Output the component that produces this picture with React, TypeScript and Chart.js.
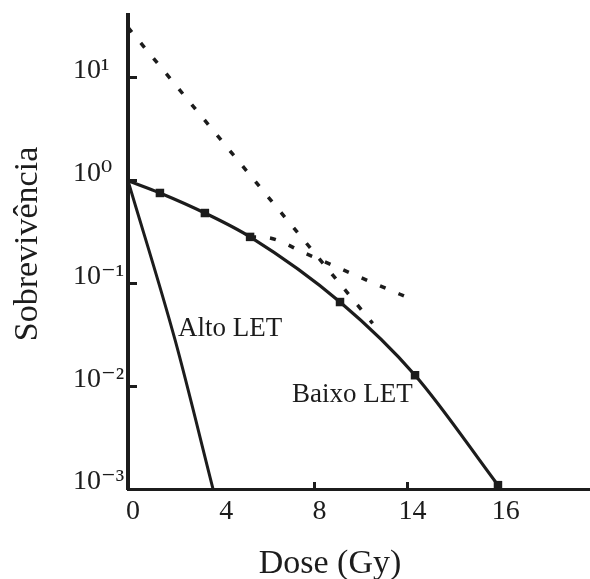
import React, { useEffect, useRef } from "react";
import { Chart, registerables } from "chart.js";

Chart.register(...registerables);

// Axis ticks (values and printed labels as in the figure)
const xTickValues = [0, 4, 8, 12, 16];
const xTickLabels = ["0", "4", "8", "14", "16"];
const yTickValues = [0.001, 0.01, 0.1, 1, 10];
const yTickLabels = ["10⁻³", "10⁻²", "10⁻¹", "10⁰", "10¹"];

// Alto LET curve
const altoDose = [0, 2.02, 3.65];
const altoSurv = [1, 0.0282, 0.001];

// Baixo LET curve (with square markers)
const baixoDose = [0, 1.37, 3.3, 5.24, 9.1, 12.32, 15.88];
const baixoSurv = [1, 0.76, 0.485, 0.284, 0.066, 0.0128, 0.00109];

// Dashed extrapolation of the terminal slope
const extrapDose = [0, 10.5];
const extrapSurv = [31, 0.041];

// Dashed curve starting at the third marker
const fracDose = [5.24, 5.97, 7.64, 10.24, 12.39];
const fracSurv = [0.284, 0.28, 0.195, 0.108, 0.067];

// Text annotations
const annotText = ["Alto LET", "Baixo LET"];
const annotDose = [2.15, 7.04];
const annotSurv = [0.036, 0.0082];

const xTitle = "Dose (Gy)";
const yTitle = "Sobrevivência";

const INK = "#1c1c1c";
const SERIF = '"Liberation Serif", "DejaVu Serif", serif';

const toPts = (xs: number[], ys: number[]) => xs.map((x, i) => ({ x, y: ys[i] }));

const textPlugin = {
  id: "textPlugin",
  afterDraw(chart: any) {
    const { ctx, chartArea, scales } = chart;
    const xs = scales.x;
    const ys = scales.y;
    ctx.save();
    ctx.fillStyle = INK;
    ctx.font = `27px ${SERIF}`;
    ctx.textAlign = "left";
    ctx.textBaseline = "middle";
    annotText.forEach((t, i) => {
      ctx.fillText(t, xs.getPixelForValue(annotDose[i]), ys.getPixelForValue(annotSurv[i]));
    });
    ctx.font = `34px ${SERIF}`;
    ctx.textAlign = "center";
    ctx.textBaseline = "alphabetic";
    ctx.fillText(xTitle, chartArea.left + 202, chartArea.bottom + 84);
    ctx.translate(37, (chartArea.top + chartArea.bottom) / 2 - 8);
    ctx.rotate(-Math.PI / 2);
    ctx.fillText(yTitle, 0, 0);
    ctx.restore();
  },
};

export default function App() {
  const ref = useRef<HTMLCanvasElement | null>(null);
  useEffect(() => {
    if (!ref.current) return;
    const chart = new Chart(ref.current, {
      type: "line",
      data: {
        datasets: [
          {
            data: toPts(extrapDose, extrapSurv),
            borderColor: INK,
            borderWidth: 3.5,
            borderDash: [6, 14],
            pointRadius: 0,
            tension: 0,
          },
          {
            data: toPts(fracDose, fracSurv),
            borderColor: INK,
            borderWidth: 3.5,
            borderDash: [6, 14],
            pointRadius: 0,
            cubicInterpolationMode: "monotone",
          },
          {
            data: toPts(altoDose, altoSurv),
            borderColor: INK,
            borderWidth: 3,
            pointRadius: 0,
            cubicInterpolationMode: "monotone",
          },
          {
            data: toPts(baixoDose, baixoSurv),
            borderColor: INK,
            borderWidth: 3.2,
            backgroundColor: INK,
            pointStyle: "rect",
            pointRadius: (c: any) => (c.dataIndex === 0 ? 0 : 6),
            pointBorderWidth: 0,
            cubicInterpolationMode: "monotone",
          },
        ],
      } as any,
      options: {
        animation: false,
        responsive: false,
        devicePixelRatio: 1,
        layout: { autoPadding: false, padding: { left: 73, top: 15, right: 0, bottom: 0 } },
        plugins: { legend: { display: false }, tooltip: { enabled: false } },
        scales: {
          x: {
            type: "linear",
            min: 0,
            max: 19.83,
            afterBuildTicks: (s: any) => {
              s.ticks = xTickValues.map((v) => ({ value: v }));
            },
            afterFit: (s: any) => {
              s.height = 90;
              s.paddingLeft = 0;
              s.paddingRight = 0;
              s.paddingTop = 0;
              s.paddingBottom = 0;
            },
            ticks: {
              callback: (_v: any, i: number) => xTickLabels[i],
              font: { family: SERIF, size: 28 },
              color: INK,
              padding: 13,
              labelOffset: 5,
              maxRotation: 0,
              autoSkip: false,
            },
            grid: {
              display: true,
              drawOnChartArea: false,
              drawTicks: true,
              tickLength: -7,
              tickWidth: 3,
              tickColor: (c: any) => (c.index === 1 || c.index === 0 ? "rgba(0,0,0,0)" : INK),
            },
            border: { display: true, width: 3, color: INK },
          },
          y: {
            type: "logarithmic",
            min: 0.001,
            max: 41,
            afterBuildTicks: (s: any) => {
              s.ticks = yTickValues.map((v) => ({ value: v }));
            },
            afterFit: (s: any) => {
              s.width = 55;
              s.paddingLeft = 0;
              s.paddingRight = 0;
              s.paddingTop = 0;
              s.paddingBottom = 0;
            },
            ticks: {
              callback: (_v: any, i: number) => yTickLabels[i],
              font: { family: SERIF, size: 28 },
              color: INK,
              crossAlign: "far",
              labelOffset: -7,
              autoSkip: false,
            },
            grid: {
              display: true,
              drawOnChartArea: false,
              drawTicks: true,
              tickLength: -9,
              tickWidth: 3,
              tickColor: (c: any) => (c.index === 0 ? "rgba(0,0,0,0)" : INK),
            },
            border: { display: true, width: 4, color: INK },
          },
        },
      } as any,
      plugins: [textPlugin],
    });
    return () => chart.destroy();
  }, []);
  return (
    <div style={{ position: "absolute", left: 0, top: 0, width: 590, height: 579, background: "#fff" }}>
      <canvas ref={ref} width={590} height={579} />
    </div>
  );
}
